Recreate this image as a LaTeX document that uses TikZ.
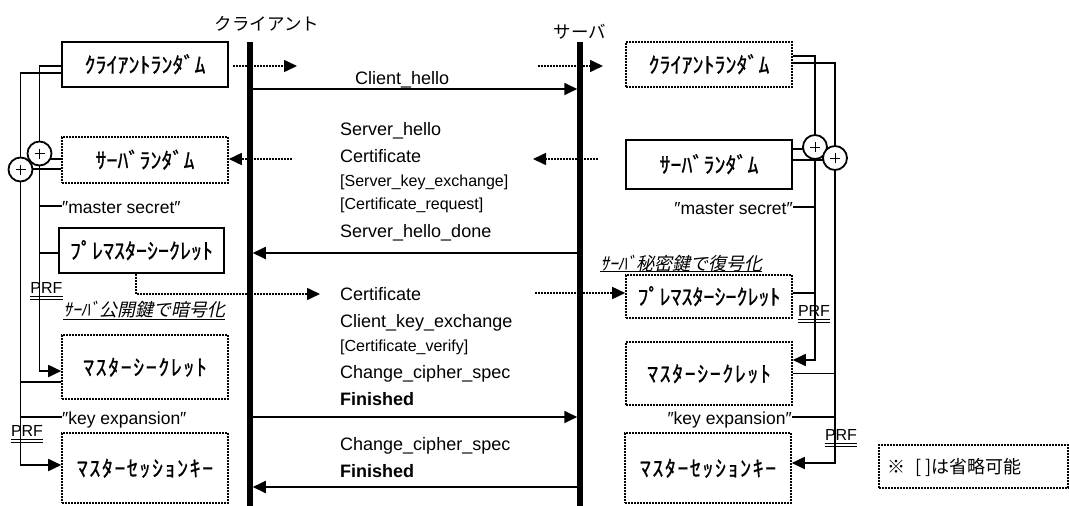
\documentclass[tikz,border=0pt]{standalone}
\usepackage{fontspec}
\setmainfont{Liberation Sans}
\newfontfamily\jp{Noto Sans CJK JP}
\newfontfamily\jpbox[FakeBold=0.7]{Noto Sans CJK JP}
\newfontfamily\jpboxw[FakeBold=0.7,LetterSpace=7]{Noto Sans CJK JP}
\newfontfamily\jpsl[FakeSlant=0.22]{Noto Sans CJK JP}
\usetikzlibrary{arrows.meta}
\pgfdeclarelayer{bg}
\pgfdeclarelayer{paper}
\pgfsetlayers{paper,bg,main}

\begin{document}
\begin{tikzpicture}[x=1pt,y=-1pt,
  ln/.style={line width=1.8pt},
  arr/.style={ln,-{Triangle[length=13pt,width=12pt]}},
  dotln/.style={line width=1.6pt,dash pattern=on 1.6pt off 1.4pt},
  dotarr/.style={dotln,-{Triangle[length=13pt,width=12pt]}},
  keybox/.style={draw,line width=1.8pt,inner sep=0pt,
    font=\jpbox\fontsize{22}{22}\selectfont,text height=19.4pt,text depth=2.6pt},
  widetext/.style={font=\jpboxw\fontsize{22}{22}\selectfont},
  solidbox/.style={keybox},
  dotbox/.style={keybox,dotln},
  xor/.style={circle,draw,ln,fill=white,minimum size=24pt,inner sep=0pt,
    path picture={\draw[line width=1pt]
      ([xshift=-5pt]path picture bounding box.center) -- ([xshift=5pt]path picture bounding box.center)
      ([yshift=-5pt]path picture bounding box.center) -- ([yshift=5pt]path picture bounding box.center);}},
  msg/.style={font=\fontsize{18}{18}\selectfont,anchor=base west,inner sep=0pt},
  opt/.style={font=\fontsize{16}{16}\selectfont,anchor=base west,inner sep=0pt},
  lbl/.style={font=\fontsize{17.5}{17.5}\selectfont,inner sep=0pt,text height=14pt,text depth=0pt},
  prf/.style={font=\fontsize{16}{16}\selectfont,inner sep=0pt,anchor=base},
  dbl/.style={line width=0.9pt},
  enc/.style={font=\jpsl\fontsize{18}{18}\selectfont,inner sep=0pt,text height=14pt,text depth=0pt,anchor=west},
  title/.style={font=\jp\fontsize{17.5}{17.5}\selectfont,inner sep=0pt,text height=15.4pt,text depth=2.1pt},
  life/.style={line width=5.5pt},
]
\begin{pgfonlayer}{paper}
\fill[white] (0,0) rectangle (1069,506);
\end{pgfonlayer}
\useasboundingbox (0,0) rectangle (1069,506);

% ---- key material, client side ----
\node[solidbox,minimum width=166pt,minimum height=45pt] (Lcr) at (145,64.5) {ｸﾗｲｱﾝﾄﾗﾝﾀﾞﾑ};
\node[dotbox,minimum width=166pt,minimum height=46pt] (Lsr) at (145,160) {ｻｰﾊﾞﾗﾝﾀﾞﾑ};
\node[solidbox,minimum width=165pt,minimum height=45pt] (Lpm) at (141.5,250.5) {ﾌﾟﾚﾏｽﾀｰｼｰｸﾚｯﾄ};
\node[dotbox,widetext,minimum width=166pt,minimum height=64pt] (Lms) at (145,367) {ﾏｽﾀｰｼｰｸﾚｯﾄ};
\node[dotbox,widetext,minimum width=166pt,minimum height=70pt] (Lsk) at (145,468) {ﾏｽﾀｰｾｯｼｮﾝｷｰ};

% ---- key material, server side ----
\node[dotbox,minimum width=166pt,minimum height=45pt] (Rcr) at (709,64.5) {ｸﾗｲｱﾝﾄﾗﾝﾀﾞﾑ};
\node[solidbox,minimum width=166pt,minimum height=49pt] (Rsr) at (709,164.5) {ｻｰﾊﾞﾗﾝﾀﾞﾑ};
\node[dotbox,minimum width=166pt,minimum height=43pt] (Rpm) at (709,296.5) {ﾌﾟﾚﾏｽﾀｰｼｰｸﾚｯﾄ};
\node[dotbox,widetext,minimum width=166pt,minimum height=63pt] (Rms) at (709,373.5) {ﾏｽﾀｰｼｰｸﾚｯﾄ};
\node[dotbox,widetext,minimum width=166pt,minimum height=70pt] (Rsk) at (708,468) {ﾏｽﾀｰｾｯｼｮﾝｷｰ};

% ---- PRF seed labels ----
\node[lbl,anchor=west] (LmsT) at (62,206) {″master secret″};
\node[lbl,anchor=west] (LkeT) at (62,417) {″key expansion″};
\node[lbl,anchor=east] (RmsT) at (793,207) {″master secret″};
\node[lbl,anchor=east] (RkeT) at (792,417) {″key expansion″};

% ---- combining circles ----
\node[xor] (Lxa) at (39.5,153.5) {};
\node[xor] (Lxb) at (20.5,169.5) {};
\node[xor] (Rxa) at (815,147) {};
\node[xor] (Rxb) at (835,158) {};

\begin{pgfonlayer}{bg}
% ---- client side derivation lines ----
\draw[ln] ([yshift=-1.5pt]Lcr.west) -| (Lxa.north);
\draw[ln] ([yshift=-8.5pt]Lcr.west) -| (Lxb.north);
\draw[ln] ([yshift=1pt]Lsr.west) -| (Lxa.south);
\draw[ln] ([yshift=-9pt]Lsr.west) -| (Lxb.north);
\draw[ln] (LmsT.west) -| (Lxa.south);
\draw[ln] ([yshift=-2.5pt]Lpm.west) -| (Lxa.south);
\draw[arr] (Lxa.south) |- ([yshift=-4pt]Lms.west);
\draw[ln] ([yshift=-15pt]Lms.west) -| (Lxb.south);
\draw[ln] (LkeT.west) -| (Lxb.south);
\draw[arr] (Lxb.south) |- ([yshift=3pt]Lsk.west);

% ---- server side derivation lines ----
\draw[ln] ([yshift=8.5pt]Rcr.east) -| (Rxa.north);
\draw[ln] ([yshift=1.5pt]Rcr.east) -| (Rxb.north);
\draw[ln] ([yshift=15.5pt]Rsr.east) -| (Rxa.south);
\draw[ln] ([yshift=4.5pt]Rsr.east) -| (Rxb.north);
\draw[ln] (RmsT.east) -| (Rxa.south);
\draw[ln] ([yshift=3.5pt]Rpm.east) -| (Rxa.south);
\draw[arr] (Rxa.south) |- ([yshift=13.5pt]Rms.east);
\draw[ln] (Rms.east) -| (Rxb.south);
\draw[ln] (RkeT.east) -| (Rxb.south);
\draw[arr] (Rxb.south) |- ([yshift=5pt]Rsk.east);

% ---- dotted transfers ----
\coordinate (d1e) at (297,66);
\coordinate (d2s) at (538,66);
\coordinate (d2e) at (603,66);
\coordinate (d3s) at (598,159);
\coordinate (d3e) at (533,159);
\coordinate (d4s) at (292,159);
\coordinate (d5e) at (320,294);
\coordinate (d6s) at (535,293);
\draw[dotarr] ([xshift=4pt,yshift=-1.5pt]Lcr.east) -- (d1e);
\draw[dotarr] (d2s) -- (d2e);
\draw[dotarr] (d3s) -- (d3e);
\draw[dotarr] (d4s) -- ([yshift=1pt]Lsr.east);
\draw[dotarr] ([xshift=-5.5pt]Lpm.south) |- (d5e);
\draw[dotarr] (d6s) -- ([yshift=3.5pt]Rpm.west);
\end{pgfonlayer}

% ---- PRF marks ----
\node[prf] (P1) at (46.5,293) {PRF};
\node[prf] (P2) at (27,436) {PRF};
\node[prf] (P3) at (814,316) {PRF};
\node[prf] (P4) at (841,440) {PRF};
\foreach \p in {P1,P2,P3,P4}{
  \draw[dbl] ([yshift=-3pt]\p.base west) -- ([yshift=-3pt]\p.base east)
             ([yshift=-6.5pt]\p.base west) -- ([yshift=-6.5pt]\p.base east);
}

% ---- encryption notes ----
\node[enc] (Lenc) at (63,309.5) {ｻｰﾊﾞ公開鍵で暗号化};
\draw[line width=1.3pt] ([yshift=-2.5pt]Lenc.south west) -- ([yshift=-2.5pt]Lenc.south east);
\node[enc] (Renc) at (600,263) {ｻｰﾊﾞ秘密鍵で復号化};
\draw[line width=1.3pt] ([yshift=-1.5pt]Renc.south west) -- ([yshift=-1.5pt]Renc.south east);

% ---- lifelines ----
\coordinate (Ca) at (250,42);
\coordinate (Cb) at (250,506);
\coordinate (Sa) at (580,42);
\coordinate (Sb) at (580,506);
\draw[life] (Ca) -- (Cb);
\draw[life] (Sa) -- (Sb);
\node[title] (Ct) at (267,24) {クライアント};
\node[title] (St) at (580,31.5) {サーバ};

% ---- handshake messages ----
\coordinate (c1) at (250,89);  \coordinate (s1) at (580,89);
\coordinate (c2) at (250,253); \coordinate (s2) at (580,253);
\coordinate (c3) at (250,417); \coordinate (s3) at (580,417);
\coordinate (c4) at (250,487); \coordinate (s4) at (580,487);
\draw[arr,shorten >=2.75pt] (c1) -- (s1);
\draw[arr,shorten >=2.75pt] (s2) -- (c2);
\draw[arr,shorten >=2.75pt] (c3) -- (s3);
\draw[arr,shorten >=2.75pt] (s4) -- (c4);

\node[msg] (m1) at (355,84) {Client\_hello};
\node[msg] (m2) at (340,135) {Server\_hello};
\node[msg] (m3) at (340,162) {Certificate};
\node[opt] (m4) at (340,186) {[Server\_key\_exchange]};
\node[opt] (m5) at (340,209) {[Certificate\_request]};
\node[msg] (m6) at (340,237) {Server\_hello\_done};
\node[msg] (m7) at (340,300) {Certificate};
\node[msg] (m8) at (340,327) {Client\_key\_exchange};
\node[opt] (m9) at (340,351) {[Certificate\_verify]};
\node[msg] (m10) at (340,378) {Change\_cipher\_spec};
\node[msg,font=\fontsize{18}{18}\selectfont\bfseries] (m11) at (340,405) {Finished};
\node[msg] (m12) at (340,450) {Change\_cipher\_spec};
\node[msg,font=\fontsize{18}{18}\selectfont\bfseries] (m13) at (340,477) {Finished};

% ---- legend ----
\node[draw,dotln,minimum width=189pt,minimum height=43pt,inner sep=0pt] (note) at (973.5,466.5) {};
\node[font=\jp\fontsize{18}{18}\selectfont,inner sep=0pt,anchor=west,text height=15.8pt,text depth=2.2pt] (noteT) at ([xshift=9pt]note.west) {※\hspace{10pt}[ ]は省略可能};
\end{tikzpicture}
\end{document}
